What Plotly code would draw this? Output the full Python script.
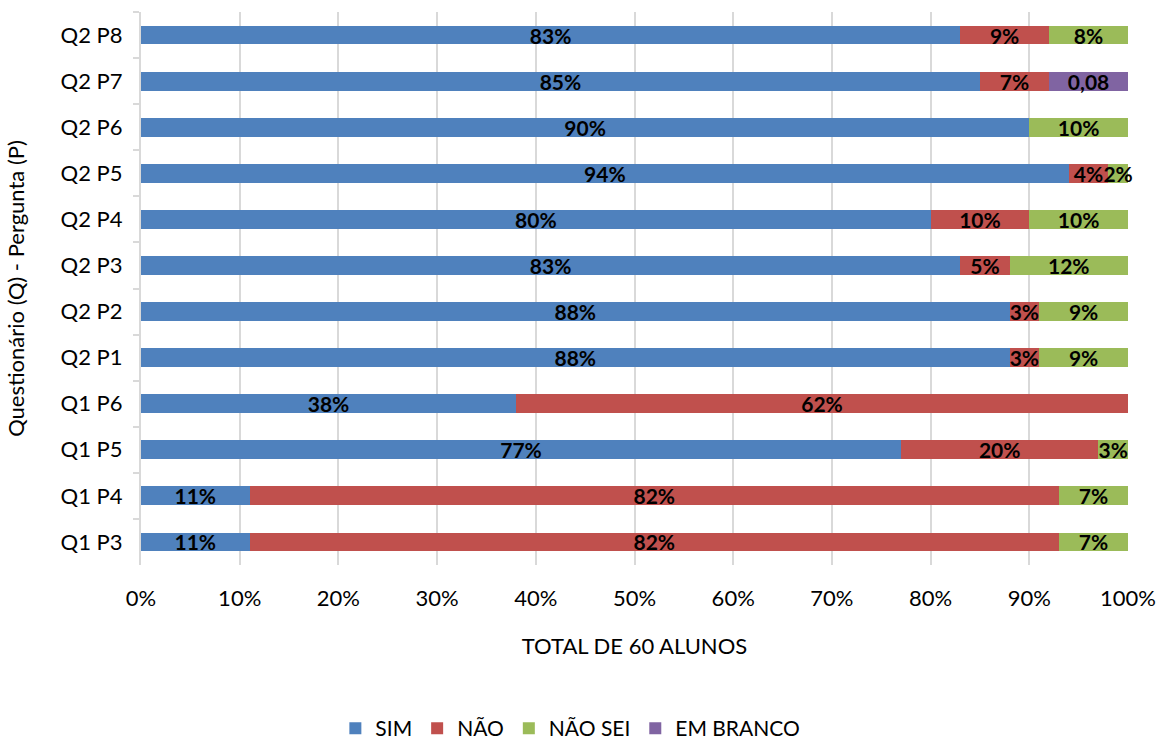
import plotly.graph_objects as go

categories = ["Q2 P8", "Q2 P7", "Q2 P6", "Q2 P5", "Q2 P4", "Q2 P3",
              "Q2 P2", "Q2 P1", "Q1 P6", "Q1 P5", "Q1 P4", "Q1 P3"]
sim = [83, 85, 90, 94, 80, 83, 88, 88, 38, 77, 11, 11]
nao = [9, 7, 0, 4, 10, 5, 3, 3, 62, 20, 82, 82]
nao_sei = [8, 0, 10, 2, 10, 12, 9, 9, 0, 3, 7, 7]
em_branco = [0, 8, 0, 0, 0, 0, 0, 0, 0, 0, 0, 0]
em_branco_labels = ["", "0,08", "", "", "", "", "", "", "", "", "", ""]
x_ticks = [0, 10, 20, 30, 40, 50, 60, 70, 80, 90, 100]

FONT = "Lato"
FS = 22

def pct_labels(vals):
    return [f"{v}%" if v > 0 else "" for v in vals]

series = [
    ("SIM", sim, pct_labels(sim), "#4F81BD"),
    ("NÃO", nao, pct_labels(nao), "#C0504D"),
    ("NÃO SEI", nao_sei, pct_labels(nao_sei), "#9BBB59"),
    ("EM BRANCO", em_branco, em_branco_labels, "#8064A2"),
]

fig = go.Figure()
for name, vals, labels, color in series:
    fig.add_trace(go.Bar(
        name=name, y=categories, x=vals, orientation="h",
        marker=dict(color=color, line=dict(width=0)),
        text=labels, textposition="inside", insidetextanchor="middle",
        textfont=dict(family=FONT, size=21, color="black", weight="bold"),
        constraintext="none", cliponaxis=False,
    ))

fig.update_layout(
    barmode="stack", bargap=0.59,
    width=1164, height=742,
    margin=dict(l=141, r=36, t=12, b=177),
    plot_bgcolor="white", paper_bgcolor="white",
    font=dict(family=FONT, size=FS, color="#000000"),
    uniformtext=dict(mode="show", minsize=21),
    legend=dict(orientation="h", xref="container", yref="container",
                x=0.49, xanchor="center", y=0.018, yanchor="middle",
                font=dict(size=21), traceorder="normal",
                itemwidth=30),
    xaxis=dict(range=[0, 100], tickvals=x_ticks,
               ticktext=[f"{t}%" for t in x_ticks],
               showgrid=True, gridcolor="#d9d9d9", gridwidth=2,
               zeroline=False, showline=False, automargin=False,
               ticks="outside", ticklen=14, tickcolor="rgba(0,0,0,0)",
               tickfont=dict(size=FS),
               title=dict(text="TOTAL DE 60 ALUNOS", font=dict(size=FS), standoff=28)),
    yaxis=dict(autorange="reversed", showgrid=False, showline=True,
               linecolor="#d9d9d9", linewidth=2, automargin=False,
               ticks="outside", tickson="boundaries", ticklen=6,
               tickcolor="#d9d9d9", tickwidth=2, ticklabelstandoff=12,
               tickfont=dict(size=FS),
               title=dict(text="Questionário (Q) - Pergunta (P)", font=dict(size=FS), standoff=30)),
)

fig.write_html("out.html")
